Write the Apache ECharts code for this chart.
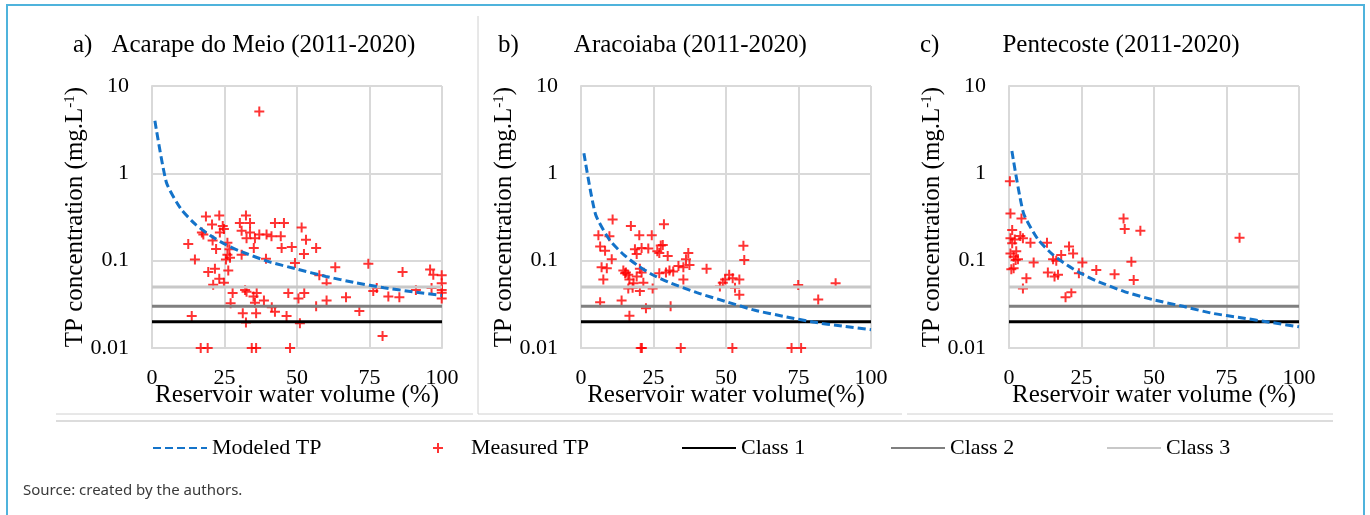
<!DOCTYPE html>
<html>
<head>
<meta charset="utf-8">
<title>TP concentration vs reservoir volume</title>
<script src="https://cdn.jsdelivr.net/npm/echarts@6/dist/echarts.min.js"></script>
<style>
  html, body { margin: 0; padding: 0; background: #fff; }
  #chart { width: 1370px; height: 515px; }
</style>
</head>
<body>
<div id="chart"></div>
<script>
// volumes (%) where the modeled curve is read
var modelVolume = [1, 5, 10, 15, 20, 25, 30, 40, 50, 60, 70, 80, 90, 100]
var modeledA = [4.0, 0.78, 0.39, 0.26, 0.195, 0.155, 0.13, 0.098, 0.08, 0.066, 0.056, 0.049, 0.044, 0.04]
var modeledB = [1.7, 0.34, 0.17, 0.115, 0.086, 0.068, 0.057, 0.043, 0.034, 0.027, 0.023, 0.0198, 0.0178, 0.0162]
var modeledC = [1.8, 0.35, 0.175, 0.118, 0.089, 0.071, 0.059, 0.044, 0.0355, 0.03, 0.025, 0.0222, 0.0197, 0.0175]

// measured TP: [volume %, mg/L]
var measuredA = [
  [37, 5.1], [18.6, 0.32], [23.2, 0.33], [20.7, 0.26], [17.2, 0.21], [17.7, 0.2], [24.4, 0.25], [24.8, 0.23],
  [23.4, 0.21], [20.9, 0.17], [12.5, 0.155], [22.1, 0.136], [26, 0.16], [26.7, 0.135], [26, 0.117], [26.9, 0.108],
  [25.5, 0.103], [14.8, 0.103], [32.4, 0.33], [30.3, 0.27], [33.8, 0.27], [30.9, 0.22], [33.8, 0.21], [32.6, 0.18],
  [35.5, 0.18], [37, 0.2], [39.5, 0.2], [42.4, 0.27], [45.5, 0.27], [41.2, 0.19], [44.4, 0.19], [35.1, 0.14],
  [30.9, 0.117], [39.3, 0.105], [44.7, 0.14], [48.2, 0.143], [51.6, 0.24], [53.1, 0.174], [52.4, 0.119], [56.6, 0.14],
  [49.3, 0.094], [19.4, 0.074], [21.7, 0.081], [26.3, 0.077], [23.2, 0.062], [21.1, 0.053], [24.8, 0.056], [63.2, 0.084],
  [57.7, 0.068], [60.2, 0.055], [74.6, 0.092], [86.4, 0.074], [95.9, 0.079], [97, 0.069], [99.9, 0.068], [99.9, 0.055],
  [96.4, 0.0485], [99.9, 0.046], [99.9, 0.043], [99.9, 0.037], [91, 0.046], [85.3, 0.038], [81.5, 0.039], [77.5, 0.0485],
  [76.3, 0.045], [66.9, 0.038], [60.2, 0.035], [56.6, 0.03], [71.5, 0.0266], [79.5, 0.0137], [47, 0.0425], [52.5, 0.0425],
  [50.5, 0.037], [46.4, 0.0233], [51, 0.0192], [41.3, 0.0293], [42.4, 0.026], [38.6, 0.035], [36.1, 0.0425], [35, 0.039],
  [35.5, 0.033], [32.1, 0.046], [32.6, 0.044], [27.8, 0.0425], [27.1, 0.0326], [31.3, 0.025], [35.9, 0.025], [32.4, 0.0196],
  [13.7, 0.0233], [16.8, 0.01], [19.2, 0.01], [34.4, 0.01], [35.9, 0.01], [47.6, 0.01]
]
var measuredB = [
  [10.9, 0.296], [17.2, 0.249], [28.6, 0.262], [6, 0.196], [9.8, 0.19], [20.1, 0.196], [24.4, 0.196], [6.6, 0.145],
  [8.3, 0.13], [18.6, 0.135], [19.2, 0.119], [23.2, 0.138], [26.3, 0.128], [28.2, 0.151], [27, 0.122], [29.9, 0.113],
  [20.9, 0.14], [10.6, 0.104], [37, 0.122], [36.2, 0.104], [56, 0.148], [56.3, 0.102], [7.1, 0.084], [8.9, 0.082],
  [7.7, 0.061], [14.6, 0.077], [15.5, 0.073], [20.3, 0.081], [16.3, 0.069], [19.2, 0.066], [20.9, 0.073], [27, 0.072],
  [29.3, 0.073], [30.5, 0.077], [31.8, 0.075], [33.6, 0.087], [35.3, 0.084], [37.4, 0.089], [43.3, 0.081], [35.3, 0.061],
  [16.7, 0.061], [18.1, 0.055], [21.5, 0.056], [16.3, 0.048], [17.8, 0.049], [20.3, 0.045], [24.7, 0.048], [6.6, 0.0335],
  [14, 0.035], [22.4, 0.0286], [30.9, 0.03], [16.7, 0.0234], [47.9, 0.0505], [48.9, 0.056], [49.7, 0.061], [51.1, 0.069],
  [52.3, 0.063], [54.6, 0.061], [53.1, 0.049], [54.6, 0.0406], [74.9, 0.0528], [87.8, 0.055], [81.8, 0.036], [20.6, 0.01],
  [21, 0.01], [34.4, 0.01], [52.2, 0.01], [72.6, 0.01], [75.9, 0.01], [15.2, 0.072], [27.5, 0.149]
]
var measuredC = [
  [0.3, 0.81], [0.5, 0.347], [4.3, 0.304], [1.1, 0.224], [0.5, 0.18], [2, 0.175], [1.1, 0.158], [3.9, 0.191],
  [4.8, 0.18], [7.4, 0.16], [13.1, 0.16], [0.5, 0.121], [2.5, 0.128], [1.6, 0.111], [3.1, 0.104], [2.3, 0.102],
  [0.8, 0.08], [1.6, 0.082], [8.5, 0.095], [15.2, 0.104], [16.3, 0.1], [18, 0.116], [20.7, 0.145], [22.1, 0.121],
  [25.3, 0.095], [24.1, 0.072], [13.4, 0.073], [15.7, 0.066], [16.9, 0.069], [6, 0.063], [4.8, 0.048], [21.5, 0.0435],
  [19.5, 0.038], [30.1, 0.078], [36.4, 0.07], [39.5, 0.304], [39.9, 0.23], [45.3, 0.22], [42.2, 0.0975], [43, 0.06],
  [79.5, 0.183]
]

// water quality class limits (mg/L)
var classNames = ['Class 1', 'Class 2', 'Class 3']
var classLevels = [0.02, 0.03, 0.05]
var classColors = ['#000000', '#7f7f7f', '#c8c8c8']

var panelLetters = ['a)', 'b)', 'c)']
var panelTitles = ['Acarape do Meio (2011-2020)', 'Aracoiaba (2011-2020)', 'Pentecoste (2011-2020)']
var xNames = ['Reservoir water volume (%)', 'Reservoir water volume(%)', 'Reservoir water volume (%)']

var SERIF = '"Liberation Serif", "Times New Roman", serif'
var GRID_COLOR = '#d9d9d9'
var PLUS = 'path://M4,0H6V4H10V6H6V10H4V6H0V4H4Z'

var panels = [
  { left: 152, titleLeft: 73, titleGap: 19, modeled: modeledA, measured: measuredA },
  { left: 581, titleLeft: 498, titleGap: 55, modeled: modeledB, measured: measuredB },
  { left: 1009, titleLeft: 920, titleGap: 63, modeled: modeledC, measured: measuredC }
]

var grids = []
var xAxes = []
var yAxes = []
var titles = []
var series = []

panels.forEach(function (p, i) {
  grids.push({ left: p.left, top: 86, width: 290, height: 262, outerBoundsMode: 'none' })
  titles.push({
    text: '{l|' + panelLetters[i] + '}{t|' + panelTitles[i] + '}',
    left: p.titleLeft,
    top: 33,
    padding: 0,
    textStyle: {
      fontWeight: 'normal',
      rich: {
        l: { fontFamily: SERIF, fontSize: 25, fontWeight: 'normal', color: '#000', padding: [0, p.titleGap, 0, 0] },
        t: { fontFamily: SERIF, fontSize: 25, fontWeight: 'normal', color: '#000' }
      }
    }
  })
  xAxes.push({
    gridIndex: i,
    type: 'value',
    min: 0,
    max: 100,
    interval: 25,
    axisLine: { onZero: false, lineStyle: { color: GRID_COLOR, width: 2 } },
    axisTick: { show: false },
    splitLine: { lineStyle: { color: GRID_COLOR, width: 2 } },
    axisLabel: { margin: 19, fontFamily: SERIF, fontSize: 22, color: '#000' },
    name: xNames[i],
    nameLocation: 'middle',
    nameGap: 35,
    nameMoveOverlap: false,
    nameTextStyle: { fontFamily: SERIF, fontSize: 25, color: '#000' }
  })
  yAxes.push({
    gridIndex: i,
    type: 'log',
    logBase: 10,
    min: 0.01,
    max: 10,
    axisLine: { lineStyle: { color: GRID_COLOR, width: 2 } },
    axisTick: { show: false },
    splitLine: { lineStyle: { color: GRID_COLOR, width: 2 } },
    axisLabel: {
      margin: 23,
      fontFamily: SERIF,
      fontSize: 22,
      color: '#000',
      formatter: function (v) { return String(+(+v).toPrecision(3)) }
    },
    name: '{n|TP concentration (mg.L}{s|-1}{n|)}',
    nameLocation: 'middle',
    nameGap: 64,
    nameMoveOverlap: false,
    nameTextStyle: {
      rich: {
        n: { fontFamily: SERIF, fontSize: 25, color: '#000' },
        s: { fontFamily: SERIF, fontSize: 15, color: '#000', verticalAlign: 'top' }
      }
    }
  })

  classLevels.forEach(function (lv, k) {
    series.push({
      name: classNames[k],
      type: 'line',
      xAxisIndex: i,
      yAxisIndex: i,
      symbol: 'none',
      silent: true,
      lineStyle: { color: classColors[k], width: 3 },
      itemStyle: { color: classColors[k] },
      data: [[0, lv], [100, lv]]
    })
  })

  series.push({
    name: 'Modeled TP',
    type: 'line',
    xAxisIndex: i,
    yAxisIndex: i,
    symbol: 'none',
    smooth: 0.2,
    lineStyle: { color: '#1473c9', width: 3, type: [8, 4] },
    itemStyle: { color: '#1473c9' },
    data: modelVolume.map(function (v, k) { return [v, p.modeled[k]] })
  })

  series.push({
    name: 'Measured TP',
    type: 'scatter',
    xAxisIndex: i,
    yAxisIndex: i,
    symbol: PLUS,
    symbolSize: 10,
    clip: false,
    itemStyle: { color: '#ff0000' },
    data: p.measured
  })
})

// one legend per item, so each sits where the reference has it
var legendSpots = [
  { name: 'Modeled TP', left: 152, w: 54, textPad: 0 },
  { name: 'Measured TP', left: 433, w: 10, textPad: 23 },
  { name: 'Class 1', left: 681, w: 54, textPad: 0 },
  { name: 'Class 2', left: 890, w: 54, textPad: 0 },
  { name: 'Class 3', left: 1106, w: 54, textPad: 0 }
]
var legends = legendSpots.map(function (l) {
  var isLine = l.name !== 'Measured TP'
  var lg = {
    data: [l.name],
    left: l.left,
    top: 437,
    padding: 0,
    itemWidth: l.w,
    itemHeight: isLine ? 14 : 10,
    selectedMode: false,
    textStyle: { fontFamily: SERIF, fontSize: 22, color: '#000', padding: [0, 0, 0, l.textPad] }
  }
  if (isLine) {
    // only the line, no marker in the middle
    lg.itemStyle = { color: 'rgba(0,0,0,0)', borderWidth: 0 }
  }
  return lg
})

var option = {
  backgroundColor: '#fff',
  animation: false,
  title: titles,
  legend: legends,
  grid: grids,
  xAxis: xAxes,
  yAxis: yAxes,
  series: series,
  graphic: [
    {
      type: 'rect',
      shape: { x: 7, y: 5, width: 1357, height: 530 },
      style: { fill: null, stroke: '#4fb3dc', lineWidth: 2 },
      silent: true
    },
    { type: 'line', shape: { x1: 478, y1: 16, x2: 478, y2: 414 }, style: { stroke: '#d0d0d0', lineWidth: 1 } },
    { type: 'line', shape: { x1: 56, y1: 414, x2: 473, y2: 414 }, style: { stroke: '#d0d0d0', lineWidth: 1 } },
    { type: 'line', shape: { x1: 478, y1: 414, x2: 902, y2: 414 }, style: { stroke: '#d0d0d0', lineWidth: 1 } },
    { type: 'line', shape: { x1: 907, y1: 414, x2: 1333, y2: 414 }, style: { stroke: '#d0d0d0', lineWidth: 1 } },
    { type: 'line', shape: { x1: 56, y1: 421, x2: 1333, y2: 421 }, style: { stroke: '#d0d0d0', lineWidth: 1.5 } },
    {
      type: 'text',
      left: 23,
      top: 483,
      style: { text: 'Source: created by the authors.', font: '15px "Noto Sans", sans-serif', fill: '#3a3a3a' }
    }
  ]
}

var myChart = echarts.init(document.getElementById('chart'))
myChart.setOption(option)
</script>
</body>
</html>
